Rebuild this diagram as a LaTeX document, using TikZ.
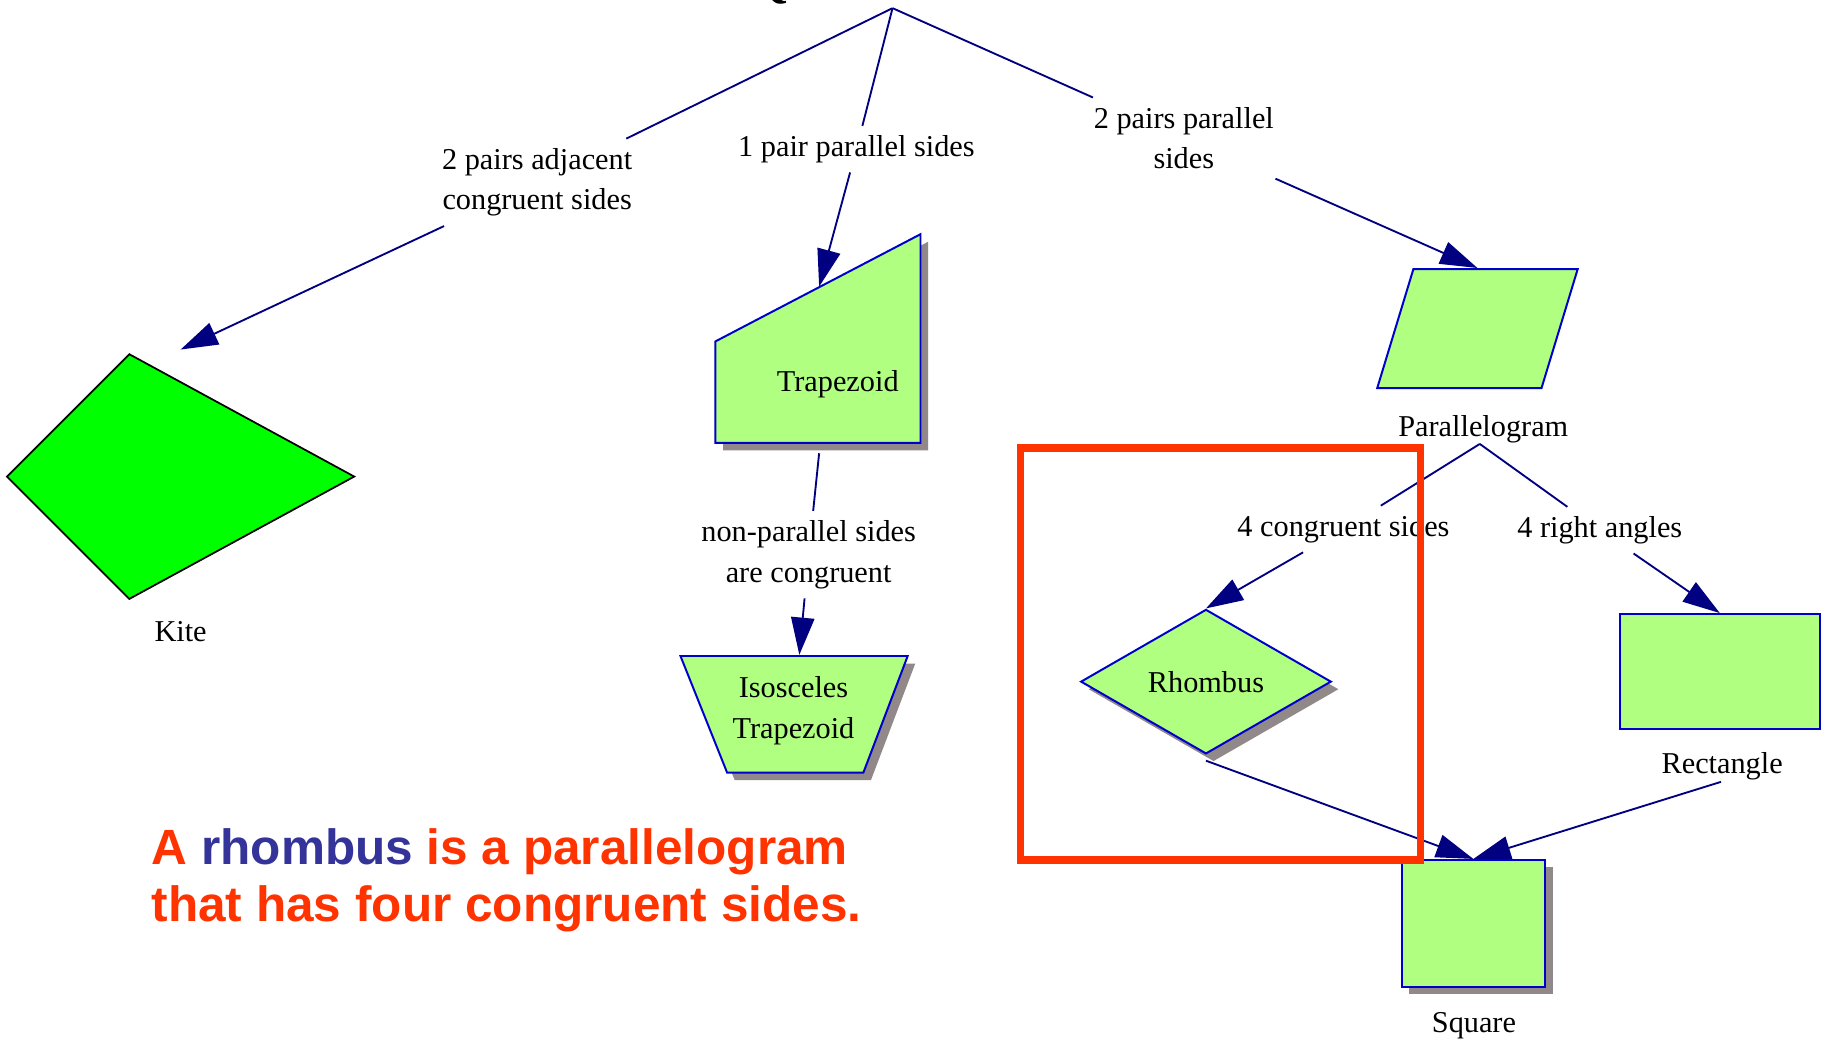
\documentclass[tikz,border=0pt]{standalone}
\usepackage{fontspec}
\setmainfont{Liberation Serif}
\newfontfamily\capfont{Liberation Sans}
\usetikzlibrary{arrows.meta,shapes.geometric,shadows}
\definecolor{edgeblue}{RGB}{0,0,128}
\definecolor{shapeblue}{RGB}{0,0,205}
\definecolor{shapegreen}{RGB}{176,255,128}
\definecolor{kitegreen}{RGB}{0,255,0}
\definecolor{shadowgrey}{RGB}{145,137,137}
\definecolor{alertred}{RGB}{255,51,0}
\definecolor{wordblue}{RGB}{51,51,153}

\begin{document}
\begin{tikzpicture}[x=1pt,y=-1pt,
    >={Triangle[length=32pt,width=20pt]},
    font=\fontsize{26}{35}\selectfont,
    conn/.style={draw=edgeblue,line width=1.6pt},
    elabel/.style={inner sep=8pt,align=center},
    quad/.style={draw=shapeblue,fill=shapegreen,line width=1.7pt},
    shade/.style={drop shadow={fill=shadowgrey,opacity=1,shadow xshift=6.5pt,shadow yshift=-6.5pt}},
    sayit/.style={anchor=base west,inner sep=0pt,text=alertred,
      font=\capfont\bfseries\fontsize{42.5}{47}\selectfont}]
  \useasboundingbox (0,0) rectangle (1568,892);

  % top of the tree
  \node[anchor=base west,inner sep=0pt,font=\fontsize{41}{41}\selectfont\bfseries] (title) at (645,-3) {Q};
  \coordinate (root) at (766,7);

  % kite
  \draw[fill=kitegreen,line width=1.5pt] (111,304) -- (6,409) -- (111,514) -- (304,409) -- cycle;
  \node (kite) at (155,542) {Kite};
  \coordinate (kite-in) at (155,300);

  % trapezoids
  \draw[quad,shade] (614,293) -- (790,201) -- (790,380) -- (614,380) -- cycle;
  \node (trap) at (719,330) {Trapezoid};
  \coordinate (trap-in) at (703,246);
  \coordinate (trap-out) at (703,389);
  \draw[quad,shade] (584,563) -- (779,563) -- (741,663) -- (624,663) -- cycle;
  \node[align=center] (iso) at (681,610) {Isosceles\\Trapezoid};
  \coordinate (iso-in) at (686,562);

  % parallelograms
  \draw[quad] (1213,231) -- (1354,231) -- (1323,333) -- (1182,333) -- cycle;
  \node (para) at (1273,368) {Parallelogram};
  \coordinate (para-in) at (1268,230);
  \coordinate (para-out) at (1270,381);
  \node[quad,shade,diamond,minimum width=215pt,minimum height=124pt,inner sep=0pt] (rhombus) at (1035,585) {Rhombus};
  \node[quad,minimum width=172pt,minimum height=99pt] (rect) at (1476,576.5) {};
  \node (rectLbl) at (1478,658) {Rectangle};
  \coordinate (rect-out) at (1477,671);
  \node[quad,shade,minimum width=123pt,minimum height=109pt] (square) at (1264.5,792.5) {};
  \node (squareLbl) at (1265,880) {Square};

  % edge labels
  \node[elabel] (adj) at (461,156.5) {2 pairs adjacent\\congruent sides};
  \node[elabel] (one) at (735,128) {1 pair parallel sides};
  \node[elabel] (two) at (1016,118.5) {2 pairs parallel\\sides};
  \node[elabel] (legs) at (694,476) {non-parallel sides\\are congruent};
  \node[elabel] (four) at (1153,454) {4 congruent sides};
  \node[elabel] (right) at (1373,455) {4 right angles};

  \draw[conn] (root) -- (adj);
  \draw[conn,->] (adj) -- (kite-in);
  \draw[conn] (root) -- (one);
  \draw[conn,->] (one) -- (trap-in);
  \draw[conn] (root) -- (two);
  \draw[conn,->] (two) -- (para-in);
  \draw[conn] (trap-out) -- (legs);
  \draw[conn,->] (legs) -- (iso-in);
  \draw[conn] (para-out) -- (four);
  \draw[conn,->] (four) -- (rhombus.north);
  \draw[conn] (para-out) -- (right);
  \draw[conn,->] (right) -- (rect.north);
  \draw[conn,->] ([yshift=-5pt]rhombus.south) -- (square.north);
  \draw[conn,->] (rect-out) -- (square.north);

  % highlight
  \draw[alertred,line width=6.6pt] (875.8,384.5) rectangle (1219,737.8);
  \node[sayit] (sayA) at (130,742) {A \textcolor{wordblue}{rhombus} is a parallelogram};
  \node[sayit] (sayB) at (130,791) {that has four congruent sides.};
\end{tikzpicture}
\end{document}
